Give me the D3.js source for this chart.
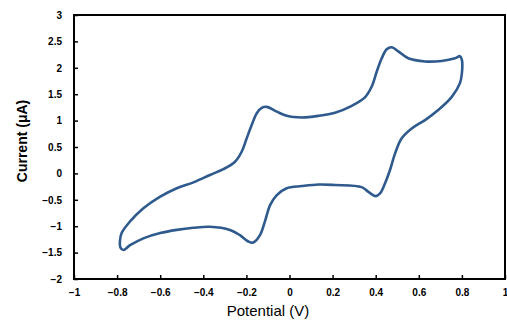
<!DOCTYPE html>
<html>
<head>
<meta charset="utf-8">
<script src="https://cdn.jsdelivr.net/npm/d3@7"></script>
<style>
  body { margin: 0; background: #fff; }
  svg { display: block; }
  .tick text { font-family: "Liberation Sans", Arial, sans-serif; font-weight: bold; font-size: 10px; }
</style>
</head>
<body>
<div id="chart"></div>
<script>
// axis ticks
var xTicks = [-1, -0.8, -0.6, -0.4, -0.2, 0, 0.2, 0.4, 0.6, 0.8, 1];
var yTicks = [-2, -1.5, -1, -0.5, 0, 0.5, 1, 1.5, 2, 2.5, 3];

// cyclic voltammogram (V, uA)
var potential = [-0.787, -0.779, -0.74, -0.678, -0.60, -0.523, -0.446, -0.369, -0.307, -0.253,
    -0.222, -0.199, -0.175, -0.152, -0.129, -0.106, -0.059, -0.013, 0.057, 0.134,
    0.211, 0.289, 0.35, 0.381, 0.405, 0.428, 0.451, 0.474, 0.505, 0.551,
    0.629, 0.706, 0.768, 0.791, 0.80, 0.80, 0.791, 0.753, 0.69, 0.629,
    0.567, 0.52, 0.49, 0.466, 0.443, 0.42, 0.40, 0.366, 0.335, 0.211,
    0.134, 0.057, -0.013, -0.059, -0.09, -0.114, -0.137, -0.168, -0.191, -0.23,
    -0.276, -0.369, -0.446, -0.523, -0.60, -0.678, -0.74, -0.771, -0.785];
var current = [-1.29, -1.13, -0.91, -0.66, -0.44, -0.28, -0.17, -0.03, 0.08, 0.22,
    0.41, 0.66, 0.92, 1.14, 1.24, 1.26, 1.17, 1.09, 1.06, 1.09,
    1.15, 1.28, 1.44, 1.64, 1.93, 2.18, 2.35, 2.39, 2.31, 2.18,
    2.12, 2.13, 2.18, 2.22, 2.15, 1.9, 1.71, 1.45, 1.2, 1.01,
    0.85, 0.66, 0.38, 0.06, -0.19, -0.38, -0.43, -0.35, -0.26, -0.22,
    -0.21, -0.24, -0.28, -0.41, -0.60, -0.91, -1.17, -1.31, -1.29, -1.17,
    -1.07, -1.01, -1.03, -1.07, -1.13, -1.23, -1.36, -1.45, -1.40];

var W = 507, H = 327;
var margin = { top: 15, right: 2, bottom: 48, left: 74 };

var svg = d3.select("#chart").append("svg")
    .attr("width", W)
    .attr("height", H);

var x = d3.scaleLinear().domain([-1, 1]).range([margin.left, W - margin.right]);
var y = d3.scaleLinear().domain([-2, 3]).range([H - margin.bottom, margin.top]);

var fmt = function (d) { return d3.format("")(d).replace("-", "\u2212"); };

// x axis
var gx = svg.append("g")
    .attr("transform", "translate(0," + y(-2) + ")")
    .call(d3.axisBottom(x).tickValues(xTicks).tickSizeInner(-4).tickSizeOuter(0).tickPadding(10).tickFormat(fmt));
gx.select(".domain").remove();
gx.selectAll(".tick line").attr("stroke", "#000").attr("stroke-width", 1.5);

// y axis
var gy = svg.append("g")
    .attr("transform", "translate(" + x(-1) + ",0)")
    .call(d3.axisLeft(y).tickValues(yTicks).tickSizeInner(-4).tickSizeOuter(0).tickPadding(12).tickFormat(fmt));
gy.select(".domain").remove();
gy.selectAll(".tick line").attr("stroke", "#000").attr("stroke-width", 1.5);

// frame
svg.append("rect")
    .attr("x", x(-1))
    .attr("y", y(3))
    .attr("width", x(1) - x(-1))
    .attr("height", y(-2) - y(3))
    .attr("fill", "none")
    .attr("stroke", "#000")
    .attr("stroke-width", 2);

var pts = potential.map(function (v, i) { return [v, current[i]]; });

var line = d3.line()
    .x(function (d) { return x(d[0]); })
    .y(function (d) { return y(d[1]); })
    .curve(d3.curveCatmullRomClosed.alpha(0.5));

svg.append("path")
    .datum(pts)
    .attr("d", line)
    .attr("fill", "none")
    .attr("stroke", "#2f5a8e")
    .attr("stroke-width", 2.6)
    .attr("stroke-linejoin", "round");

// axis titles
svg.append("text")
    .attr("x", 268)
    .attr("y", 316)
    .attr("text-anchor", "middle")
    .style("font-family", "Liberation Sans, Arial, sans-serif")
    .style("font-size", "15px")
    .text("Potential (V)");

svg.append("text")
    .attr("transform", "translate(27,141) rotate(-90)")
    .attr("text-anchor", "middle")
    .style("font-family", "Liberation Sans, Arial, sans-serif")
    .style("font-size", "14px")
    .style("font-weight", "bold")
    .text("Current (\u03bcA)");
</script>
</body>
</html>
